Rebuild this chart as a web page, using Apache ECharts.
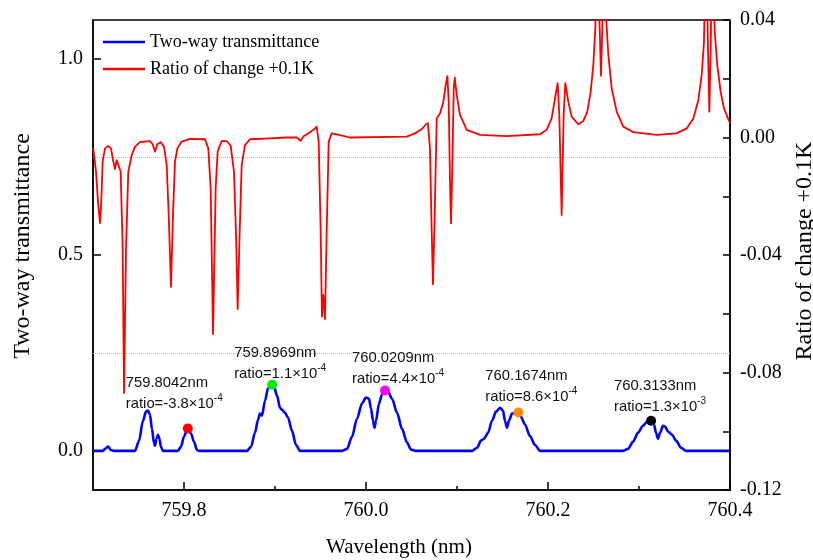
<!DOCTYPE html>
<html>
<head>
<meta charset="utf-8">
<script src="https://cdn.jsdelivr.net/npm/echarts@6/dist/echarts.min.js"></script>
<style>
  html, body { margin: 0; padding: 0; background: #fff; }
  #chart { width: 813px; height: 560px; }
</style>
</head>
<body>
<div id="chart"></div>
<script>
// two-way transmittance (left axis)
const transWl = [759.7000, 759.7110, 759.7132, 759.7165, 759.7198, 759.7231, 759.7462, 759.7505, 759.7549, 759.7582,
  759.7604, 759.7626, 759.7648, 759.7670, 759.7681, 759.7698, 759.7714, 759.7730, 759.7747, 759.7769,
  759.7934, 759.7967, 759.8000, 759.8033, 759.8044, 759.8077, 759.8110, 759.8143, 759.8165,
  759.8692, 759.8736, 759.8780, 759.8813, 759.8835, 759.8857, 759.8890, 759.8923, 759.8956, 759.8989,
  759.9022, 759.9055, 759.9077, 759.9110, 759.9143, 759.9187, 759.9231, 759.9275,
  759.9736, 759.9791, 759.9846, 759.9901, 759.9956, 760.0000, 760.0033, 760.0055, 760.0077, 760.0093,
  760.0110, 760.0143, 760.0176, 760.0209, 760.0242, 760.0286, 760.0341, 760.0396, 760.0451, 760.0495, 760.0549,
  760.1165, 760.1220, 760.1264, 760.1297, 760.1341, 760.1385, 760.1429, 760.1473, 760.1505, 760.1527,
  760.1549, 760.1571, 760.1604, 760.1637, 760.1670, 760.1703, 760.1747, 760.1802, 760.1857, 760.1912, 760.1945,
  760.2824, 760.2879, 760.2934, 760.2989, 760.3044, 760.3088, 760.3132, 760.3165, 760.3187, 760.3209,
  760.3231, 760.3264, 760.3286, 760.3319, 760.3363, 760.3407, 760.3462, 760.3516, 760.4000];
const transVal = [0, 0, 0.005, 0.011, 0.002, 0, 0, 0.025, 0.077, 0.100,
  0.103, 0.092, 0.056, 0.020, 0.013, 0.031, 0.041, 0.031, 0.010, 0,
  0, 0.011, 0.036, 0.054, 0.057, 0.044, 0.023, 0.002, 0,
  0, 0.010, 0.046, 0.079, 0.095, 0.090, 0.128, 0.159, 0.169, 0.164,
  0.141, 0.110, 0.105, 0.097, 0.085, 0.051, 0.015, 0,
  0, 0.005, 0.036, 0.082, 0.121, 0.136, 0.133, 0.108, 0.077, 0.059,
  0.077, 0.121, 0.144, 0.154, 0.151, 0.133, 0.097, 0.056, 0.021, 0.003, 0,
  0, 0.008, 0.026, 0.031, 0.046, 0.077, 0.100, 0.110, 0.103, 0.077,
  0.059, 0.077, 0.095, 0.097, 0.097, 0.087, 0.067, 0.038, 0.015, 0, 0,
  0, 0.005, 0.023, 0.046, 0.064, 0.074, 0.077, 0.067, 0.046, 0.031,
  0.046, 0.064, 0.062, 0.049, 0.041, 0.026, 0.008, 0, 0];

// ratio of change +0.1K (right axis)
const ratioWl = [759.7003, 759.7033, 759.7055, 759.7077, 759.7091, 759.7106, 759.7132, 759.7168, 759.7198, 759.7223,
  759.7242, 759.7260, 759.7278, 759.7304, 759.7326, 759.7341, 759.7363, 759.7388, 759.7425, 759.7462,
  759.7516, 759.7626, 759.7656, 759.7681, 759.7707, 759.7744, 759.7780, 759.7810, 759.7832, 759.7857,
  759.7879, 759.7901, 759.7927, 759.7975, 759.8066, 759.8231, 759.8267, 759.8293, 759.8319, 759.8348,
  759.8370, 759.8414, 759.8469, 759.8513, 759.8549, 759.8571, 759.8590, 759.8612, 759.8634, 759.8670,
  759.8725, 759.8945, 759.9128, 759.9238, 759.9282, 759.9311, 759.9385, 759.9429, 759.9458, 759.9480,
  759.9502, 759.9516, 759.9531, 759.9549, 759.9568, 759.9590, 759.9623, 759.9678, 759.9824, 760.0447,
  760.0538, 760.0612, 760.0659, 760.0681, 760.0703, 760.0722, 760.0736, 760.0755, 760.0777, 760.0813,
  760.0850, 760.0876, 760.0894, 760.0909, 760.0923, 760.0934, 760.0949, 760.0964, 760.0975, 760.0997,
  760.1033, 760.1107, 760.1253, 760.1546, 760.1912, 760.1985, 760.2040, 760.2077, 760.2106, 760.2124,
  760.2150, 760.2172, 760.2190, 760.2223, 760.2260, 760.2333, 760.2388, 760.2432, 760.2469, 760.2498,
  760.2520, 760.2540, 760.2568, 760.2582, 760.2597, 760.2612, 760.2637, 760.2663, 760.2700, 760.2755,
  760.2827, 760.2937, 760.3194, 760.3414, 760.3524, 760.3597, 760.3652, 760.3689, 760.3714, 760.3736,
  760.3758, 760.3773, 760.3788, 760.3805, 760.3832, 760.3860, 760.3897, 760.3934, 760.4000];
const ratioVal = [-0.0037, -0.0116, -0.0219, -0.0292, -0.0219, -0.0082, -0.0037, -0.0029, -0.0037, -0.0082,
  -0.0107, -0.0077, -0.0071, -0.0116, -0.0376, -0.0870, -0.0376, -0.0116, -0.0060, -0.0031,
  -0.0016, -0.0012, -0.0023, -0.0048, -0.0023, -0.0016, -0.0031, -0.0094, -0.0264, -0.0508,
  -0.0264, -0.0082, -0.0037, -0.0014, -0.0005, -0.0006, -0.0037, -0.0173, -0.0669, -0.0173,
  -0.0048, -0.0012, -0.0012, -0.0028, -0.0116, -0.0321, -0.0584, -0.0321, -0.0094, -0.0026,
  -0.0006, -0.0003, 0, 0, -0.0011, 0.0003, 0.0018, 0.0028, 0.0037, -0.0014,
  -0.0321, -0.0610, -0.0536, -0.0618, -0.0321, -0.0014, 0.0014, 0.0011, 0, 0.0003,
  0.0014, 0.0028, 0.0045, 0.0048, -0.0037, -0.0321, -0.0500, -0.0264, 0.0065, 0.0082,
  0.0122, 0.0179, 0.0209, 0.0122, -0.0150, -0.0292, -0.0094, 0.0167, 0.0204, 0.0145,
  0.0077, 0.0026, 0.0009, 0.0005, 0.0011, 0.0026, 0.0065, 0.0133, 0.0185, 0.0077,
  -0.0264, 0.0077, 0.0185, 0.0122, 0.0071, 0.0045, 0.0056, 0.0088, 0.0156, 0.0247,
  0.0372, 0.0700, 0.0372, 0.0210, 0.0372, 0.0700, 0.0417, 0.0281, 0.0167, 0.0088,
  0.0037, 0.0018, 0.0009, 0.0014, 0.0031, 0.0065, 0.0128, 0.0213, 0.0326, 0.0700,
  0.0304, 0.0088, 0.0304, 0.0700, 0.0360, 0.0247, 0.0156, 0.0099, 0.0048];

// marked peaks
const peakWl = [759.8042, 759.8969, 760.0209, 760.1674, 760.3133];
const peakVal = [0.057, 0.169, 0.154, 0.098, 0.077];
const peakRatio = ['-3.8', '1.1', '4.4', '8.6', '1.3'];
const peakExp = ['-4', '-4', '-4', '-4', '-3'];
const peakColors = ['#ff0000', '#00ee00', '#ff00ff', '#ff8c00', '#000000'];
const peakLabelOffsets = [[-62, -35], [-38, -21], [-33, -22], [-33, -26], [-37, -24]];

// ticks
const xLabelTicks = [759.8, 760.0, 760.2, 760.4];
const xMinorTicks = [759.9, 760.1, 760.3];
const leftTicks = [0.0, 0.5, 1.0];
const leftDotLevels = [0.25, 0.75];

const serif = 'Liberation Serif';
const sans = 'Liberation Sans';

const myChart = echarts.init(document.getElementById('chart'));

const transData = transWl.map((w, i) => [w, transVal[i]]);
const ratioData = ratioWl.map((w, i) => [w, ratioVal[i]]);
const peakData = peakWl.map((w, i) => ({
  value: [w, peakVal[i]],
  itemStyle: { color: peakColors[i], opacity: 1 },
  label: {
    offset: peakLabelOffsets[i],
    formatter: '{a|' + w.toFixed(4) + 'nm}\n{a|ratio=' + peakRatio[i] + '×10}{s|' + peakExp[i] + '}'
  }
}));

const option = {
  backgroundColor: '#fff',
  animation: false,
  grid: {
    left: 93, right: 83, top: 20, bottom: 70,
    outerBoundsMode: 'none',
    containLabel: false,
    show: true, borderColor: '#000', borderWidth: 1.5
  },
  legend: {
    orient: 'vertical',
    left: 98, top: 28,
    icon: 'rect',
    itemWidth: 42, itemHeight: 2.4, itemGap: 9,
    textStyle: { fontFamily: serif, fontSize: 18, color: '#000' },
    data: ['Two-way transmittance', 'Ratio of change +0.1K']
  },
  xAxis: [{
    type: 'value',
    min: 759.7, max: 760.4,
    name: 'Wavelength (nm)',
    nameLocation: 'middle',
    nameGap: 47,
    nameTextStyle: { fontFamily: serif, fontSize: 21, color: '#000', padding: [0, 25, 0, 0] },
    axisLine: { onZero: false, lineStyle: { color: '#000', width: 1.5 } },
    axisTick: { inside: true, length: 8, customValues: xLabelTicks, lineStyle: { color: '#000', width: 1.5 } },
    axisLabel: { customValues: xLabelTicks, margin: 11, fontFamily: serif, fontSize: 20, color: '#000',
      formatter: v => v.toFixed(1) },
    splitLine: { show: false }
  }, {
    type: 'value',
    min: 759.7, max: 760.4,
    position: 'bottom',
    axisLine: { show: false, onZero: false },
    axisTick: { inside: true, length: 4, customValues: xMinorTicks, lineStyle: { color: '#000', width: 1.5 } },
    axisLabel: { show: false },
    splitLine: { show: false }
  }],
  yAxis: [{
    type: 'value',
    min: -0.1, max: 1.1,
    name: 'Two-way transmittance',
    nameLocation: 'middle',
    nameGap: 58,
    nameTextStyle: { fontFamily: serif, fontSize: 24, color: '#000', padding: [0, 0, 0, 18] },
    axisLine: { show: true, onZero: false, lineStyle: { color: '#000', width: 1.5 } },
    axisTick: { show: true, inside: true, length: 8, customValues: leftTicks, lineStyle: { color: '#000', width: 1.5 } },
    axisLabel: { customValues: leftTicks, margin: 10, fontFamily: serif, fontSize: 20, color: '#000',
      formatter: v => v.toFixed(1) },
    splitLine: { show: false }
  }, {
    type: 'value',
    min: -0.12, max: 0.04, interval: 0.04,
    position: 'right',
    name: 'Ratio of change +0.1K',
    nameLocation: 'middle',
    nameGap: 58,
    nameRotate: 90,
    nameTextStyle: { fontFamily: serif, fontSize: 24, color: '#000', padding: [0, 0, 0, 8] },
    axisLine: { show: true, onZero: false, lineStyle: { color: '#000', width: 1.5 } },
    axisTick: { show: true, inside: true, length: 7, lineStyle: { color: '#000', width: 1.5 } },
    minorTick: { show: true, splitNumber: 2, length: 7, lineStyle: { color: '#000', width: 1.5 } },
    axisLabel: { margin: 10, fontFamily: serif, fontSize: 20, color: '#000',
      formatter: v => v.toFixed(2) },
    splitLine: { show: false }
  }],
  series: [{
    name: 'Two-way transmittance',
    type: 'line',
    xAxisIndex: 0, yAxisIndex: 0,
    data: transData,
    symbol: 'none',
    smooth: 0.3,
    smoothMonotone: 'x',
    lineStyle: { color: '#0000ff', width: 2.6 },
    itemStyle: { color: '#0000ff' },
    markLine: {
      silent: true,
      symbol: 'none',
      z: 1,
      label: { show: false },
      lineStyle: { type: 'dotted', color: '#b8b8b8', width: 1 },
      data: leftDotLevels.map(v => ({ yAxis: v }))
    }
  }, {
    name: 'Ratio of change +0.1K',
    type: 'line',
    xAxisIndex: 0, yAxisIndex: 1,
    data: ratioData,
    symbol: 'none',
    smooth: false,
    lineStyle: { color: '#ff0000', width: 1.8, join: 'round' },
    itemStyle: { color: '#ff0000' }
  }, {
    name: 'peaks',
    type: 'scatter',
    xAxisIndex: 0, yAxisIndex: 0,
    symbolSize: 10,
    z: 5,
    data: peakData,
    itemStyle: { opacity: 1 },
    label: {
      show: true,
      position: 'inside',
      align: 'left',
      verticalAlign: 'middle',
      rich: {
        a: { fontFamily: sans, fontSize: 14.8, lineHeight: 21, color: '#111' },
        s: { fontFamily: sans, fontSize: 10, lineHeight: 10, verticalAlign: 'top', color: '#111' }
      }
    }
  }]
};

myChart.setOption(option, true);
window.addEventListener('resize', function () {
  myChart.resize();
});
</script>
</body>
</html>
